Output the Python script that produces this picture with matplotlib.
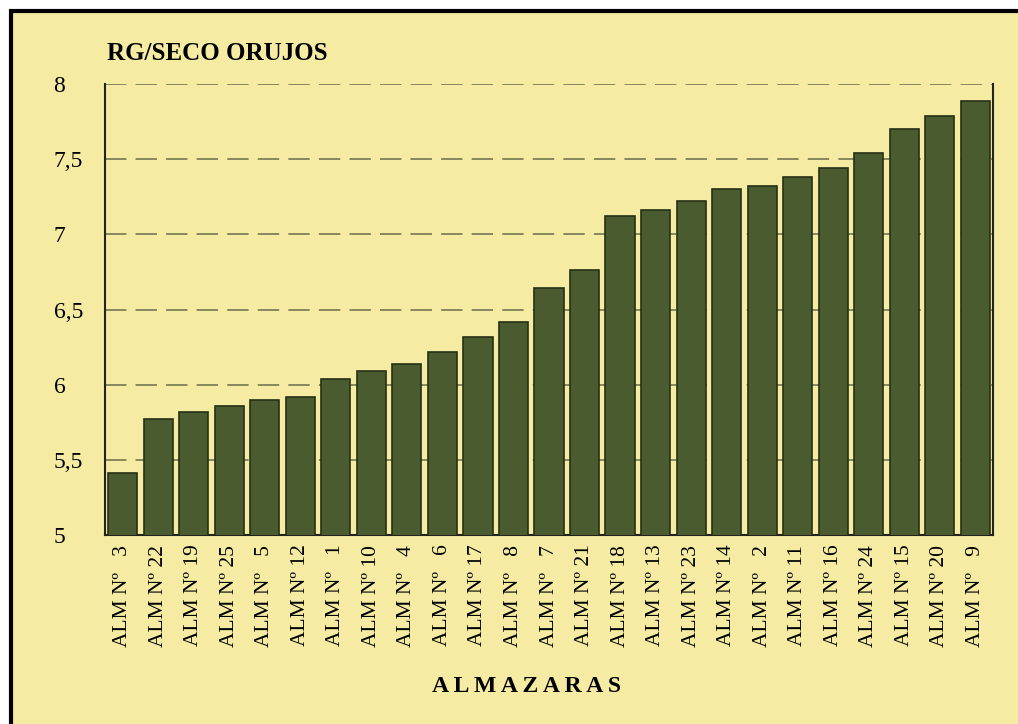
import numpy as np
import matplotlib
matplotlib.use("Agg")
import matplotlib.pyplot as plt
from matplotlib.patches import Rectangle

# almazara numbers, sorted by value (as in the chart)
almazaras = [3, 22, 19, 25, 5, 12, 1, 10, 4, 6, 17, 8, 7, 21, 18, 13, 23, 14, 2, 11, 16, 24, 15, 20, 9]
rg_seco = [5.41, 5.77, 5.82, 5.86, 5.90, 5.92, 6.04, 6.09, 6.14, 6.22, 6.32, 6.42, 6.64, 6.76,
           7.12, 7.16, 7.22, 7.30, 7.32, 7.38, 7.44, 7.54, 7.70, 7.79, 7.89]
y_ticks = [5, 5.5, 6, 6.5, 7, 7.5, 8]
y_tick_labels = ["5", "5,5", "6", "6,5", "7", "7,5", "8"]

bg = "#F6EBA3"
bar_color = "#4B5B30"

plt.rcParams["font.family"] = ["Liberation Serif", "DejaVu Serif"]

W, H = 1018, 724
fig = plt.figure(figsize=(W / 100, H / 100), dpi=100)
fig.patch.set_facecolor("white")

# scanned page frame
frame = Rectangle((10.5 / W, -0.05), 1.2, 1 - 11 / H + 0.05, transform=fig.transFigure,
                  facecolor=bg, edgecolor="black", linewidth=3, zorder=-10)
fig.patches.append(frame)

ax = fig.add_axes([105 / W, 1 - 535 / H, (993 - 105) / W, (535 - 84) / H])
ax.set_facecolor("none")
ax.set_zorder(2)

labels = ["ALM Nº " + (f"{n:>2d}".replace(" ", "  ")) for n in almazaras]
x = np.arange(len(almazaras))
ax.bar(x, rg_seco, width=0.82, color=bar_color, edgecolor="#263016", linewidth=1.2, zorder=3)

ax.set_xlim(-0.5, len(almazaras) - 0.5)
ax.set_ylim(5, 8)
ax.set_yticks(y_ticks)
ax.set_yticklabels(y_tick_labels, fontsize=17, ha="left")
ax.set_xticks(x)
ax.set_xticklabels(labels, rotation=90, fontsize=15.5, va="top", ha="center")
ax.tick_params(axis="y", length=0, pad=37)
ax.tick_params(axis="x", length=0, pad=7)

ax.set_axisbelow(True)
ax.yaxis.grid(True, color="#6a6a4a", linewidth=1.1, linestyle=(0, (14, 6)))
ax.xaxis.grid(False)

ax.spines["top"].set_visible(False)
for s in ("left", "bottom", "right"):
    ax.spines[s].set_color("#222222")
    ax.spines[s].set_linewidth(1.5)

fig.text(107 / W, 1 - 53 / H, "RG/SECO ORUJOS", fontsize=18, fontweight="bold",
         ha="left", va="center")
fig.text(526 / W, 1 - 686 / H, "A L M A Z A R A S", fontsize=17, fontweight="bold",
         ha="center", va="center")

fig.savefig("out.png", dpi=100, facecolor=fig.get_facecolor())
